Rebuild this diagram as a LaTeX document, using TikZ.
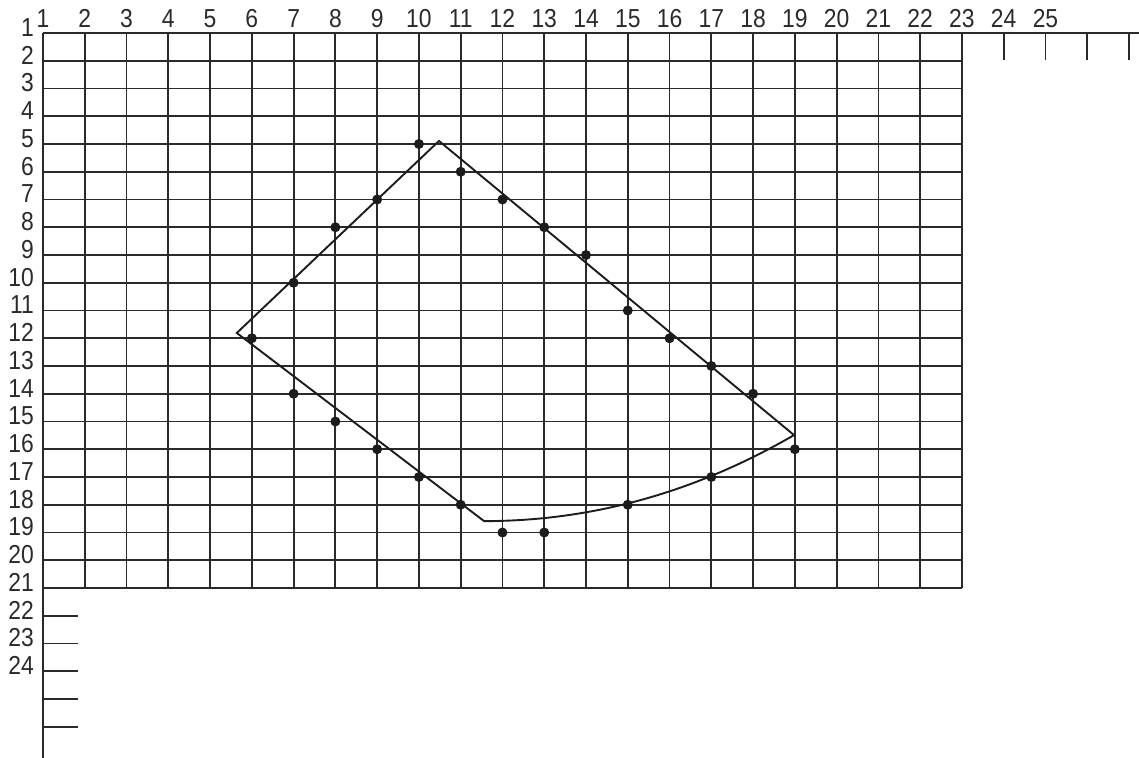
\documentclass[tikz,border=0pt]{standalone}
\usepackage{fontspec}
\setmainfont{Liberation Sans}[FakeStretch=0.88]
\usetikzlibrary{positioning}
\definecolor{gridInk}{HTML}{2A2A2A}
\definecolor{plotInk}{HTML}{1C1C1C}

\begin{document}
\begin{tikzpicture}[x=41.77pt,y=-27.75pt,
    gridline/.style={gridInk,line width=1.8pt},
    edge/.style={plotInk,line width=1.9pt,line join=miter},
    dot/.style={circle,fill=plotInk,inner sep=0pt,minimum size=10pt},
    collab/.style={anchor=base,font=\fontsize{26}{26}\selectfont,text=gridInk,inner sep=0pt},
    rowlab/.style={anchor=base east,font=\fontsize{26}{26}\selectfont,text=gridInk,inner sep=0pt}]

  \useasboundingbox (-1.0294,-1.1892) rectangle (26.239,26.126);

  % grid
  \foreach \i in {0,...,22} \draw[gridline] (\i,0) -- (\i,20);
  \foreach \j in {0,...,20} \draw[gridline] (0,\j) -- (22,\j);

  % axes running on, with ticks
  \draw[gridline] (22,0) -- (26.239,0);
  \draw[gridline] (0,20) -- (0,26.126);
  \foreach \i in {23,...,26} \draw[gridline] (\i,0) -- (\i,0.97);
  \foreach \j in {21,...,25} \draw[gridline] (0,\j) -- (0.84,\j);

  % numbering
  \foreach \c in {1,...,25} \node[collab] (c\c) at (\c-1,-0.216) {\c};
  \foreach \r in {1,...,24} \node[rowlab] (r\r) at (-0.2155,\r-0.874) {\r};

  % outline
  \coordinate (apex) at (9.48,3.89);
  \coordinate (west) at (4.64,10.81);
  \coordinate (foot) at (10.56,17.59);
  \coordinate (east) at (17.98,14.49);
  \draw[edge] (apex) -- (west) -- (foot)
    .. controls (13.14,17.59) and (15.62,16.55) .. (east) -- cycle;

  % measured points (column/row)
  \foreach \cx/\ry [count=\k] in {10/5,11/6,12/7,13/8,14/9,15/11,16/12,17/13,18/14,19/16,
      17/17,15/18,13/19,12/19,11/18,10/17,9/16,8/15,7/14,6/12,7/10,8/8,9/7}
    \node[dot] (p\k) at (\cx-1,\ry-1) {};
\end{tikzpicture}
\end{document}
